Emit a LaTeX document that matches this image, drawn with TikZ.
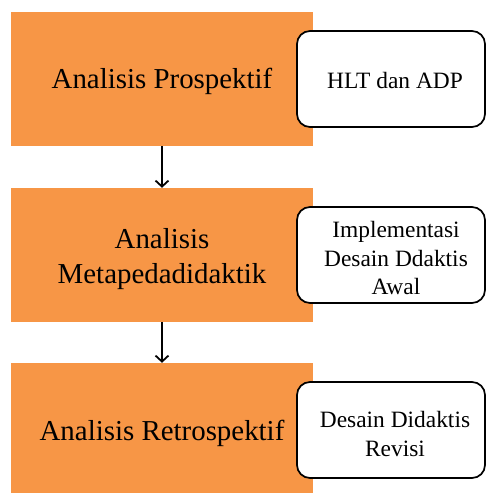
\documentclass[tikz,border=0pt]{standalone}
\usepackage{fontspec}
\setmainfont{Liberation Serif}
\usetikzlibrary{arrows.meta}
\definecolor{orangebox}{HTML}{F79646}
\begin{document}
\begin{tikzpicture}[x=1bp,y=-1bp,
  stage/.style={fill=orangebox, draw=none, minimum width=302bp, minimum height=134bp,
    inner sep=0pt},
  stagetext/.style={inner sep=0pt, align=center, font=\fontsize{29}{36}\selectfont},
  result/.style={fill=white, draw=black, line width=1.7bp, rounded corners=13bp,
    minimum width=188bp, minimum height=96bp, inner sep=0pt},
  resulttext/.style={inner sep=0pt, align=center, font=\fontsize{23.5}{29}\selectfont},
  flow/.style={draw=black, line width=1.8bp, -{Straight Barb[length=6bp,width=13bp,line width=1.8bp]}}]
\useasboundingbox (0,0) rectangle (486,493);
\clip (0,0) rectangle (486,493);
\node[stage] (s1) at (162,79) {};
\node[stage] (s2) at (162,255) {};
\node[stage] (s3) at (162,430) {};
\node[stagetext] (t1) at ([yshift=-2bp]s1.center) {Analisis Prospektif};
\node[stagetext] (t2) at ([yshift=-4bp]s2.center) {Analisis\\Metapedadidaktik};
\node[stagetext] (t3) at ([yshift=-3bp]s3.center) {Analisis Retrospektif};
\node[result] (r1) at (391,79) {};
\node[result] (r2) at (391,255) {};
\node[result] (r3) at (391,430) {};
\node[resulttext] (u1) at ([xshift=4bp,yshift=-1bp]r1.center) {HLT dan ADP};
\node[resulttext] (u2) at ([xshift=5bp,yshift=-3bp]r2.center) {Implementasi\\Desain Ddaktis\\Awal};
\node[resulttext] (u3) at ([xshift=4bp,yshift=-4bp]r3.center) {Desain Didaktis\\Revisi};
\draw[flow] (s1.south) -- (s2.north);
\draw[flow] (s2.south) -- (s3.north);
\end{tikzpicture}
\end{document}
